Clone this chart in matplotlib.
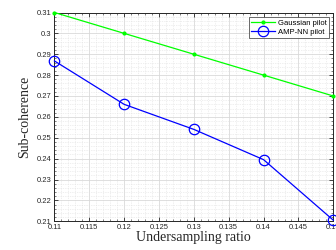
import matplotlib; matplotlib.use("Agg")
import matplotlib.pyplot as plt
from matplotlib.ticker import AutoMinorLocator

ratio = [0.11, 0.12, 0.13, 0.14, 0.15]
gaussian = [0.31, 0.30, 0.29, 0.28, 0.27]
ampnn = [0.2868, 0.2660, 0.2540, 0.2395, 0.2105]
xticks = [0.11, 0.115, 0.12, 0.125, 0.13, 0.135, 0.14, 0.145, 0.15]
xticklabels = ["0.11", "0.115", "0.12", "0.125", "0.13", "0.135", "0.14", "0.145", "0.15"]
yticks = [0.21, 0.22, 0.23, 0.24, 0.25, 0.26, 0.27, 0.28, 0.29, 0.3, 0.31]
yticklabels = ["0.21", "0.22", "0.23", "0.24", "0.25", "0.26", "0.27", "0.28", "0.29", "0.3", "0.31"]

plt.rcParams["font.family"] = ["Liberation Sans", "DejaVu Sans"]
fig = plt.figure(figsize=(3.36, 2.5), dpi=100)
ax = fig.add_axes([0.162, 0.115, 0.83, 0.835])

ax.plot(ratio, gaussian, color="#00ff00", lw=0.9, marker=".", ms=4, label="Gaussian pilot", clip_on=False, zorder=3)
ax.plot(ratio, ampnn, color="#0000ff", lw=0.9, marker="o", ms=7.5, mfc="none", mew=0.9,
        label="AMP-NN pilot", clip_on=False, zorder=3)

ax.set_xlim(0.11, 0.15); ax.set_ylim(0.21, 0.31)
ax.set_xticks(xticks); ax.set_xticklabels(xticklabels)
ax.set_yticks(yticks); ax.set_yticklabels(yticklabels)
ax.xaxis.set_minor_locator(AutoMinorLocator(5))
ax.yaxis.set_minor_locator(AutoMinorLocator(5))
ax.tick_params(which="both", direction="in", top=True, right=True, labelsize=5.5, colors="#262626", pad=2)
ax.tick_params(which="major", length=3, width=0.6)
ax.tick_params(which="minor", length=1.5, width=0.4)
for s in ax.spines.values():
    s.set_linewidth(0.7); s.set_color("#262626")
ax.grid(which="major", color="#d9d9d9", lw=0.6)
ax.grid(which="minor", color="#e0e0e0", lw=0.5, ls=(0, (1, 1.5)))
ax.set_axisbelow(True)

ax.set_xlabel("Undersampling ratio", family="Liberation Serif", fontsize=10, labelpad=0, color="#262626")
ax.set_ylabel("Sub-coherence", family="Liberation Serif", fontsize=10, labelpad=4, color="#262626")

leg = ax.legend(loc="upper right", fontsize=5.5, frameon=True, fancybox=False, borderpad=0.3,
                handlelength=3.2, handletextpad=0.3, labelspacing=0.2, borderaxespad=0.6)
leg.get_frame().set_edgecolor("#262626"); leg.get_frame().set_linewidth(0.6)

fig.savefig("out.png", dpi=100)
